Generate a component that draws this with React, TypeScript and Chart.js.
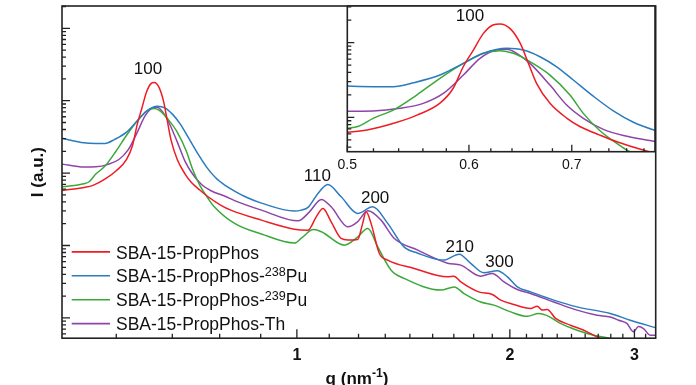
import React, { useEffect, useRef } from 'react';
import { Chart, registerables } from 'chart.js';

Chart.register(...registerables);

const FONT = '"Liberation Sans", Arial, Helvetica, sans-serif';
const AXIS = '#222222';

// ---- series (q in nm^-1, intensity in arbitrary units) ----
const seriesLabels = [
  'SBA-15-PropPhos',
  'SBA-15-PropPhos-²³⁸Pu',
  'SBA-15-PropPhos-²³⁹Pu',
  'SBA-15-PropPhos-Th',
];
const seriesColors = ['#ee1c24', '#2b7bbf', '#3aa93a', '#8e44a8'];

const qRed = [0.466, 0.5, 0.515, 0.536, 0.555, 0.5745, 0.586, 0.595, 0.604, 0.613, 0.622, 0.6286, 0.638, 0.648, 0.656, 0.664, 0.6775, 0.695, 0.709, 0.73, 0.749, 0.779, 0.808, 0.891, 0.992, 1.037, 1.065, 1.0887, 1.118, 1.155, 1.181, 1.219, 1.237, 1.253, 1.273, 1.308, 1.344, 1.465, 1.633, 1.667, 1.705, 1.807, 1.889, 1.941, 2.026, 2.139, 2.187, 2.223, 2.259, 2.321, 2.436, 2.544, 2.656, 2.773];
const iRed = [57.5, 63.1, 67.6, 83.2, 107, 155, 245, 479, 794, 1318, 1722, 1778, 1549, 977, 525, 285, 154, 97, 74.8, 57.9, 47.1, 36.5, 30.5, 22.4, 16.8, 16.3, 24.9, 32.5, 21.2, 12.5, 11.9, 12.1, 19.1, 29.2, 20.2, 7.76, 6.28, 4.82, 3.69, 3.77, 3.15, 2.29, 2.1, 1.76, 1.53, 1.35, 1.45, 1.28, 1.31, 0.982, 0.792, 0.676, 0.546, 0.461];

const qBlue = [0.466, 0.5, 0.5197, 0.5356, 0.552, 0.5745, 0.595, 0.6131, 0.635, 0.6509, 0.6674, 0.6843, 0.7016, 0.7229, 0.745, 0.7677, 0.793, 0.8175, 0.85, 0.891, 0.992, 1.0147, 1.038, 1.071, 1.106, 1.155, 1.219, 1.28, 1.344, 1.417, 1.482, 1.613, 1.696, 1.761, 1.838, 1.92, 1.984, 2.049, 2.139, 2.307, 2.489, 2.773, 2.959, 3.22];
const iBlue = [302, 262, 257, 257, 290, 368, 528, 719, 839, 796, 647, 475, 316, 192, 122, 86, 67, 56, 46, 38.5, 29.9, 30.8, 33.9, 52.4, 69.8, 47.0, 27.7, 34.2, 20.2, 9.57, 7.83, 6.28, 7.59, 5.65, 4.19, 4.47, 3.69, 2.68, 2.29, 1.76, 1.42, 1.15, 0.929, 0.728];

const qGreen = [0.466, 0.5, 0.5085, 0.5197, 0.5356, 0.5548, 0.5745, 0.595, 0.6131, 0.6286, 0.6413, 0.6575, 0.6775, 0.6981, 0.7122, 0.7302, 0.7488, 0.7619, 0.8165, 0.891, 0.993, 1.0147, 1.055, 1.083, 1.167, 1.213, 1.26, 1.301, 1.359, 1.418, 1.598, 1.669, 1.723, 1.819, 1.899, 2.005, 2.117, 2.198, 2.27, 2.358, 2.489, 2.627, 2.773, 2.911];
const iGreen = [64.7, 71.3, 75.9, 97.0, 125, 199, 333, 528, 719, 780, 719, 555, 368, 199, 113, 66.1, 44.9, 35.5, 20.2, 14.4, 10.8, 12.6, 16.6, 15.5, 10.1, 12.6, 17.2, 9.57, 4.56, 3.51, 2.42, 2.68, 2.17, 1.66, 1.5, 1.21, 1.05, 1.15, 1.05, 0.838, 0.676, 0.577, 0.519, 0.461];

const qPurple = [0.466, 0.5, 0.5197, 0.541, 0.5603, 0.5774, 0.595, 0.6101, 0.6255, 0.635, 0.6445, 0.6575, 0.6775, 0.6947, 0.7122, 0.7339, 0.7563, 0.793, 0.8165, 0.891, 1.004, 1.041, 1.083, 1.118, 1.181, 1.217, 1.26, 1.315, 1.372, 1.482, 1.633, 1.705, 1.819, 1.889, 1.962, 2.049, 2.139, 2.307, 2.489, 2.656, 2.773, 2.85, 2.927, 2.991, 3.04, 3.09, 3.158, 3.22];
const iPurple = [133, 121, 122, 132, 154, 209, 368, 617, 796, 813, 719, 528, 270, 146, 97.0, 69, 57, 47.5, 41.7, 30.8, 21.9, 28.9, 43.3, 34.2, 18.1, 21.0, 30.1, 22.4, 12.6, 8.63, 5.7, 5.35, 3.77, 4.11, 3.15, 2.47, 2.17, 1.66, 1.28, 1.09, 1.03, 0.929, 0.838, 0.641, 0.759, 0.713, 0.577, 0.577];

// ---- axes ----
const xTickValues = [1, 2, 3];
const xTickLabels = ['1', '2', '3'];
const insetTickValues = [0.5, 0.6, 0.7];
const insetTickLabels = ['0.5', '0.6', '0.7'];
const xTitle = 'q (nm⁻¹)';
const yTitle = 'I (a.u.)';

// ---- peak annotations (data coordinates) ----
const peakTexts = ['100', '110', '200', '210', '300'];
const peakQ = [0.616, 1.069, 1.29, 1.699, 1.934];
const peakI = [2735, 91.0, 44.4, 9.57, 5.79];
const insetPeakTexts = ['100'];
const insetPeakQ = [0.601];
const insetPeakI = [2249];

const MAIN_X = [0.4656, 3.215];
const MAIN_Y = [0.524, 20330];
const INSET_X = [0.5, 0.793];
const INSET_Y = [34.7, 3090];

const series = [
  { q: qRed, i: iRed },
  { q: qBlue, i: iBlue },
  { q: qGreen, i: iGreen },
  { q: qPurple, i: iPurple },
];

function makeDatasets() {
  return series.map((s, k) => ({
    label: seriesLabels[k],
    data: s.q.map((q, j) => ({ x: q, y: s.i[j] })),
    borderColor: seriesColors[k],
    backgroundColor: seriesColors[k],
    borderWidth: 1.5,
    pointRadius: 0,
    fill: false,
    cubicInterpolationMode: 'monotone' as const,
  }));
}

const SUP: Record<string, string> = {
  '⁰': '0', '¹': '1', '²': '2', '³': '3', '⁴': '4', '⁵': '5', '⁶': '6', '⁷': '7', '⁸': '8', '⁹': '9', '⁻': '-',
};

function drawRich(ctx: CanvasRenderingContext2D, text: string, x: number, y: number, size: number, weight: string, align: 'left' | 'center') {
  const runs: { t: string; sup: boolean }[] = [];
  for (const ch of Array.from(text)) {
    const sup = ch in SUP;
    const c = sup ? SUP[ch] : ch;
    if (runs.length && runs[runs.length - 1].sup === sup) runs[runs.length - 1].t += c;
    else runs.push({ t: c, sup });
  }
  const fN = `${weight} ${size}px ${FONT}`;
  const fS = `${weight} ${Math.round(size * 0.72 * 10) / 10}px ${FONT}`;
  const widths = runs.map((r) => {
    ctx.font = r.sup ? fS : fN;
    return ctx.measureText(r.t).width;
  });
  const total = widths.reduce((a, b) => a + b, 0);
  let cx = align === 'center' ? x - total / 2 : x;
  ctx.textAlign = 'left';
  ctx.textBaseline = 'alphabetic';
  runs.forEach((r, k) => {
    ctx.font = r.sup ? fS : fN;
    ctx.fillText(r.t, cx, r.sup ? y - size * 0.38 : y);
    cx += widths[k];
  });
}

function drawLogYTicks(ctx: CanvasRenderingContext2D, ys: any, left: number, majorLen: number, minorLen: number) {
  for (let e = -2; e <= 5; e++) {
    for (let k = 1; k <= 9; k++) {
      const v = k * Math.pow(10, e);
      if (v < ys.min || v > ys.max) continue;
      const py = ys.getPixelForValue(v);
      ctx.moveTo(left, py);
      ctx.lineTo(left + (k === 1 ? majorLen : minorLen), py);
    }
  }
}

const mainDecor = {
  id: 'mainDecor',
  afterDatasetsDraw(chart: any) {
    const { ctx, chartArea: a, scales } = chart;
    const xs = scales.x;
    const ys = scales.y;
    ctx.save();
    ctx.strokeStyle = AXIS;
    ctx.lineWidth = 1.3;
    ctx.beginPath();
    for (let n = 1; n <= 40; n++) {
      const v = n / 9;
      if (v < xs.min || v > xs.max) continue;
      const px = xs.getPixelForValue(v);
      ctx.moveTo(px, a.bottom);
      ctx.lineTo(px, a.bottom - (n % 9 === 0 ? 9 : 4.5));
    }
    drawLogYTicks(ctx, ys, a.left, 8, 4);
    ctx.stroke();
    ctx.lineWidth = 1.6;
    ctx.strokeRect(a.left, a.top, a.right - a.left, a.bottom - a.top);

    // peak labels
    ctx.fillStyle = '#111';
    ctx.font = `17px ${FONT}`;
    ctx.textAlign = 'center';
    ctx.textBaseline = 'middle';
    peakTexts.forEach((t, k) => {
      ctx.fillText(t, xs.getPixelForValue(peakQ[k]), ys.getPixelForValue(peakI[k]));
    });

    // legend
    const lx0 = a.left + 9.7;
    const lx1 = a.left + 48;
    const ty = a.left + 54;
    chart.data.datasets.forEach((ds: any, k: number) => {
      const y = a.bottom - 86.3 + k * 23.9;
      ctx.strokeStyle = ds.borderColor;
      ctx.lineWidth = 1.6;
      ctx.beginPath();
      ctx.moveTo(lx0, y);
      ctx.lineTo(lx1, y);
      ctx.stroke();
      ctx.fillStyle = '#111';
      drawRich(ctx, ds.label, ty, y + 6.6, 17.5, 'normal', 'left');
    });

    // axis titles
    ctx.fillStyle = '#111';
    drawRich(ctx, xTitle, 357, 383.5, 17, 'bold', 'center');
    ctx.save();
    ctx.translate(38, (a.top + a.bottom) / 2);
    ctx.rotate(-Math.PI / 2);
    ctx.font = `bold 17px ${FONT}`;
    ctx.textAlign = 'center';
    ctx.textBaseline = 'middle';
    ctx.fillText(yTitle, 0, 0);
    ctx.restore();
    ctx.restore();
  },
};

const insetDecor = {
  id: 'insetDecor',
  beforeDatasetsDraw(chart: any) {
    const { ctx, chartArea: a } = chart;
    ctx.save();
    ctx.fillStyle = '#ffffff';
    ctx.fillRect(a.left, a.top, a.right - a.left, a.bottom - a.top);
    ctx.restore();
  },
  afterDatasetsDraw(chart: any) {
    const { ctx, chartArea: a, scales } = chart;
    const xs = scales.x;
    const ys = scales.y;
    ctx.save();
    ctx.strokeStyle = AXIS;
    ctx.lineWidth = 1.3;
    ctx.beginPath();
    for (let n = 25; n <= 40; n++) {
      const v = n / 50;
      if (v < xs.min - 1e-9 || v > xs.max) continue;
      const px = xs.getPixelForValue(v);
      ctx.moveTo(px, a.bottom);
      ctx.lineTo(px, a.bottom - (n % 5 === 0 ? 7 : 3.5));
    }
    drawLogYTicks(ctx, ys, a.left, 7, 4);
    ctx.stroke();
    ctx.lineWidth = 1.6;
    ctx.strokeRect(a.left, a.top, a.right - a.left, a.bottom - a.top);

    ctx.fillStyle = '#111';
    ctx.font = `17px ${FONT}`;
    ctx.textAlign = 'center';
    ctx.textBaseline = 'middle';
    insetPeakTexts.forEach((t, k) => {
      ctx.fillText(t, xs.getPixelForValue(insetPeakQ[k]), ys.getPixelForValue(insetPeakI[k]));
    });
    ctx.restore();
  },
};

const zeroPad = (s: any) => {
  s.paddingLeft = 0;
  s.paddingRight = 0;
  s.paddingTop = 0;
  s.paddingBottom = 0;
};

export default function App() {
  const mainRef = useRef<HTMLCanvasElement>(null);
  const insetRef = useRef<HTMLCanvasElement>(null);

  useEffect(() => {
    const main = new Chart(mainRef.current as HTMLCanvasElement, {
      type: 'line',
      data: { datasets: makeDatasets() as any },
      options: {
        responsive: false,
        animation: false,
        events: [],
        layout: { padding: { left: 62, top: 6, right: 40.3, bottom: 11.6 } },
        plugins: { legend: { display: false }, tooltip: { enabled: false } },
        scales: {
          x: {
            type: 'logarithmic',
            min: MAIN_X[0],
            max: MAIN_X[1],
            grid: { display: false, drawTicks: false },
            border: { display: false },
            afterBuildTicks: (s: any) => {
              s.ticks = xTickValues.map((v) => ({ value: v }));
            },
            afterFit: zeroPad,
            ticks: {
              autoSkip: false,
              maxRotation: 0,
              padding: 8,
              color: '#111',
              font: { family: FONT, size: 16, weight: 'bold' },
              callback: (_v: any, idx: number) => xTickLabels[idx],
            },
          },
          y: {
            type: 'logarithmic',
            min: MAIN_Y[0],
            max: MAIN_Y[1],
            display: false,
          },
        },
      } as any,
      plugins: [mainDecor],
    });

    const inset = new Chart(insetRef.current as HTMLCanvasElement, {
      type: 'line',
      data: { datasets: makeDatasets() as any },
      options: {
        responsive: false,
        animation: false,
        events: [],
        layout: { padding: { left: 47.3, top: 6, right: 41, bottom: 1.5 } },
        plugins: { legend: { display: false }, tooltip: { enabled: false } },
        scales: {
          x: {
            type: 'logarithmic',
            min: INSET_X[0],
            max: INSET_X[1],
            grid: { display: false, drawTicks: false },
            border: { display: false },
            afterBuildTicks: (s: any) => {
              s.ticks = insetTickValues.map((v) => ({ value: v }));
            },
            afterFit: zeroPad,
            ticks: {
              autoSkip: false,
              maxRotation: 0,
              padding: 5,
              color: '#111',
              font: { family: FONT, size: 14 },
              callback: (_v: any, idx: number) => insetTickLabels[idx],
            },
          },
          y: {
            type: 'logarithmic',
            min: INSET_Y[0],
            max: INSET_Y[1],
            display: false,
          },
        },
      } as any,
      plugins: [insetDecor],
    });

    return () => {
      main.destroy();
      inset.destroy();
    };
  }, []);

  return (
    <div style={{ position: 'fixed', left: 0, top: 0, width: 696, height: 385, background: '#ffffff' }}>
      <canvas ref={mainRef} width={696} height={385} style={{ position: 'absolute', left: 0, top: 0, width: 696, height: 385 }} />
      <canvas ref={insetRef} width={396} height={180} style={{ position: 'absolute', left: 300, top: 0, width: 396, height: 180 }} />
    </div>
  );
}
